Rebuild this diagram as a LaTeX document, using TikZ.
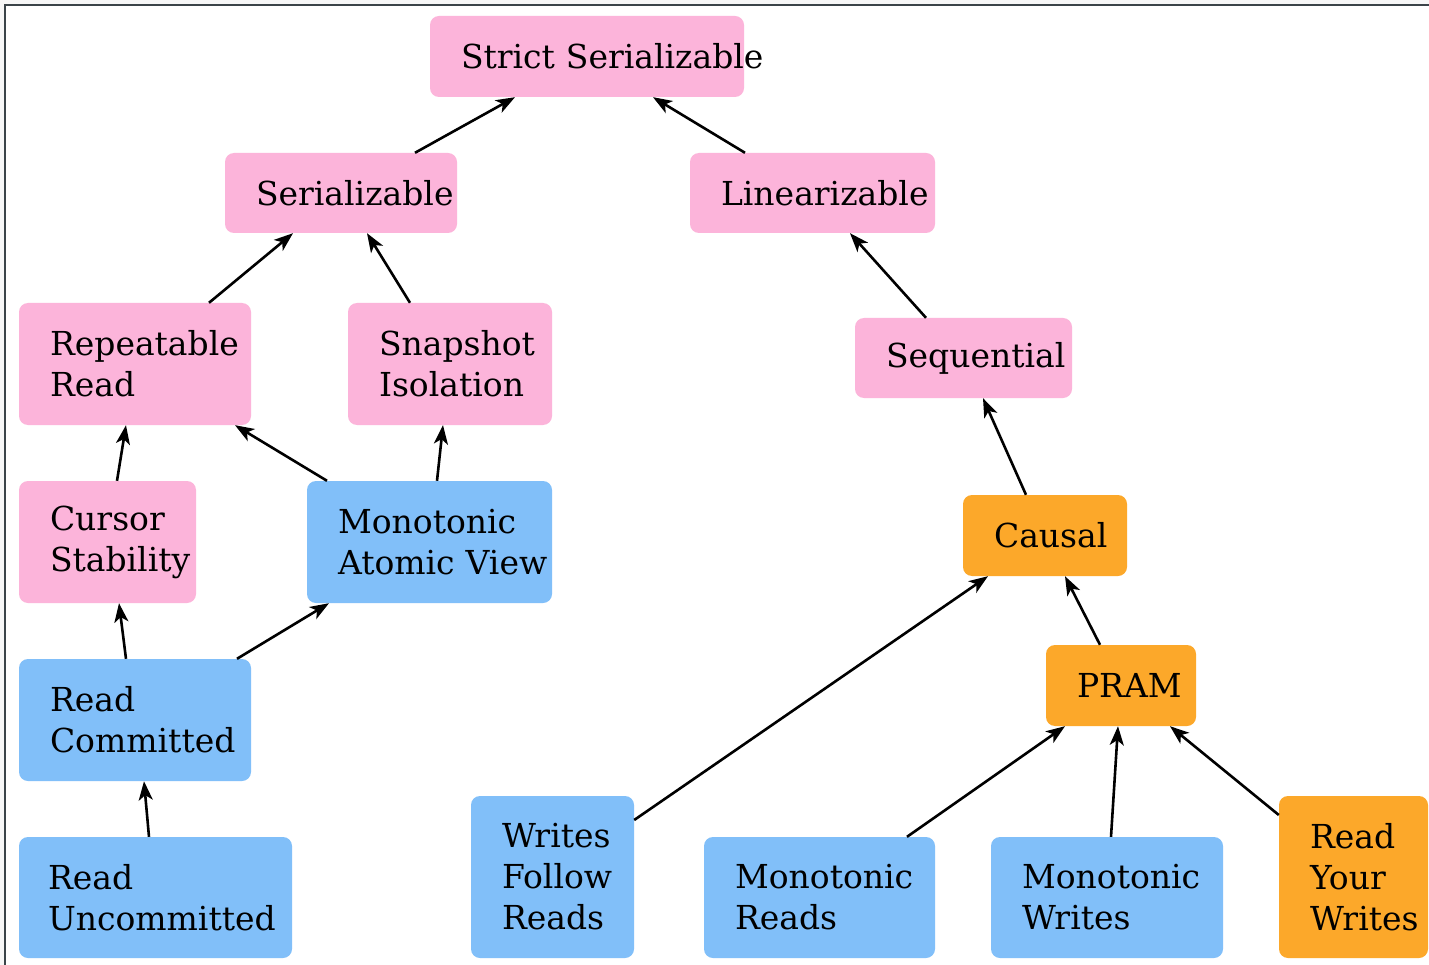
\documentclass[tikz,border=0pt]{standalone}
\usepackage{fontspec}
\setmainfont{DejaVu Serif}
\usepackage{xcolor}
\usepackage{tikz}
\usetikzlibrary{arrows.meta,calc}
\definecolor{pastelpink}{RGB}{252,180,218}
\definecolor{pastelblue}{RGB}{129,191,249}
\definecolor{pastelorange}{RGB}{252,168,42}
\definecolor{framegray}{RGB}{59,68,73}

\tikzset{
    box/.style={rounded corners=9pt, inner xsep=31pt, inner ysep=0pt, align=left,
        font=\fontsize{33}{41}\selectfont},
    pinkbox/.style={box, fill=pastelpink},
    bluebox/.style={box, fill=pastelblue},
    orangebox/.style={box, fill=pastelorange},
    link/.style={line width=2.6pt, -{Stealth[length=19pt,width=14pt,inset=5pt]}}
}

\begin{document}
\begin{tikzpicture}[x=1pt, y=-1pt]
    % page and frame
    \useasboundingbox (0,0) rectangle (1429,965);
    \fill [black!3] (0,0) rectangle (1429,965);
    \fill [white] (6,6) rectangle (1429,965);
    \draw [framegray, line width=2pt] (5,965) -- (5,5) -- (1429,5);

    % consistency models
    \node [pinkbox, text width=252pt, minimum height=81pt] (strict) at (587,56.5) {\mbox{Strict Serializable}};
    \node [pinkbox, text width=170pt, minimum height=80pt] (ser) at (341,193) {Serializable};
    \node [pinkbox, text width=183pt, minimum height=80pt] (lin) at (812.5,193) {Linearizable};
    \node [pinkbox, text width=170pt, minimum height=122pt] (rr) at (135,364) {Repeatable\\Read};
    \node [pinkbox, text width=142pt, minimum height=122pt] (si) at (450,364) {Snapshot\\Isolation};
    \node [pinkbox, text width=155pt, minimum height=80pt] (seq) at (963.5,358) {Sequential};
    \node [pinkbox, text width=115pt, minimum height=122pt] (cs) at (107.5,542) {Cursor\\Stability};
    \node [bluebox, text width=183pt, minimum height=122pt] (mav) at (429.5,542) {Monotonic\\\mbox{Atomic View}};
    \node [orangebox, text width=102pt, minimum height=81pt] (causal) at (1045,535.5) {Causal};
    \node [orangebox, text width=88pt, minimum height=81pt] (pram) at (1121,685.5) {PRAM};
    \node [bluebox, text width=170pt, minimum height=122pt] (rc) at (135,720) {Read\\Committed};
    \node [bluebox, text width=215pt, minimum height=121pt, inner xsep=29pt] (ru) at (155.5,897.5) {Read\\Uncommitted};
    \node [bluebox, text width=101pt, minimum height=162pt] (wfr) at (552.5,877) {Writes\\Follow\\Reads};
    \node [bluebox, text width=169pt, minimum height=121pt] (mr) at (819.5,897.5) {Monotonic\\Reads};
    \node [bluebox, text width=170pt, minimum height=121pt] (mw) at (1107,897.5) {Monotonic\\Writes};
    \node [orangebox, text width=87pt, minimum height=162pt] (ryw) at (1353.5,877) {Read\\Your\\Writes};

    % implications
    \draw [link] ([xshift=74pt]ser.north) -- ([xshift=-72pt]strict.south);
    \draw [link] ([xshift=-67.5pt]lin.north) -- ([xshift=66pt]strict.south);
    \draw [link] ([xshift=74pt]rr.north) -- ([xshift=-48pt]ser.south);
    \draw [link] ([xshift=-40pt]si.north) -- ([xshift=26pt]ser.south);
    \draw [link] ([xshift=-37.5pt]seq.north) -- ([xshift=37.5pt]lin.south);
    \draw [link] ([xshift=9.5pt]cs.north) -- ([xshift=-9pt]rr.south);
    \draw [link] ([xshift=-102.5pt]mav.north) -- ([xshift=100pt]rr.south);
    \draw [link] ([xshift=7.5pt]mav.north) -- ([xshift=-7pt]si.south);
    \draw [link] ([xshift=-19pt]causal.north) -- ([xshift=19.5pt]seq.south);
    \draw [link] ([xshift=-9pt]rc.north) -- ([xshift=11.5pt]cs.south);
    \draw [link] ([xshift=102pt]rc.north) -- ([xshift=-100.5pt]mav.south);
    \draw [link] ([xshift=-6.5pt]ru.north) -- ([xshift=9pt]rc.south);
    \draw [link] ([yshift=57pt]wfr.east) -- ([xshift=-57pt]causal.south);
    \draw [link] ([xshift=87.5pt]mr.north) -- ([xshift=-56pt]pram.south);
    \draw [link] ([xshift=4pt]mw.north) -- ([xshift=-3pt]pram.south);
    \draw [link] ([yshift=62pt]ryw.west) -- ([xshift=49pt]pram.south);
    \draw [link] ([xshift=-21pt]pram.north) -- ([xshift=20pt]causal.south);
\end{tikzpicture}
\end{document}
